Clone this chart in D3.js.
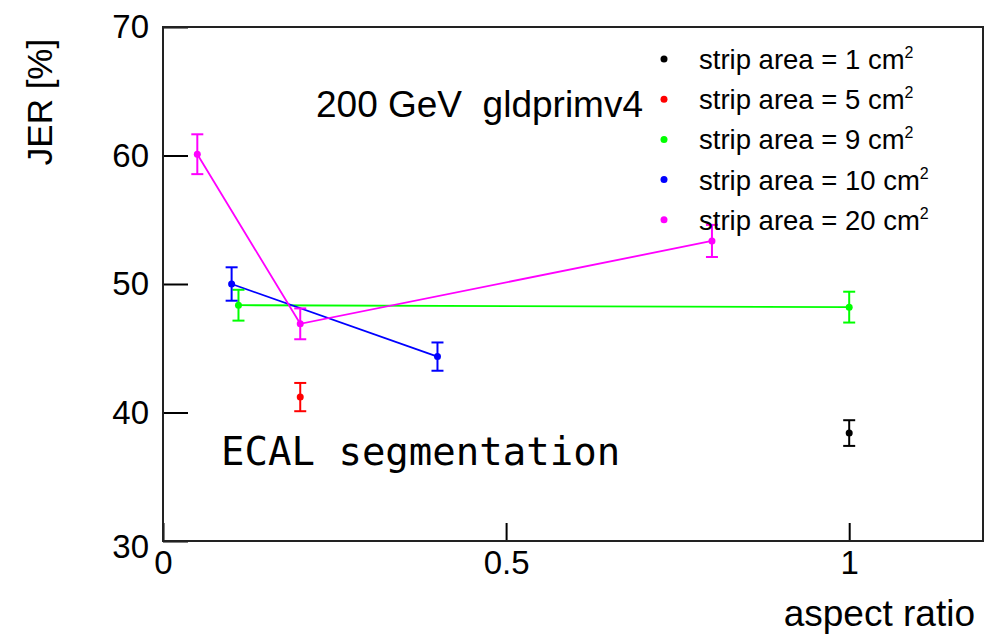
<!DOCTYPE html>
<html>
<head>
<meta charset="utf-8">
<script src="https://cdn.jsdelivr.net/npm/d3@7"></script>
<style>
  html, body { margin: 0; padding: 0; background: #fff; }
  svg { display: block; }
  text { font-family: "Liberation Sans", Arial, sans-serif; fill: #000; }
</style>
</head>
<body>
<svg id="chart" width="985" height="637"></svg>
<script>
// ---- data ----
const seriesNames = ["strip area = 1 cm", "strip area = 5 cm", "strip area = 9 cm", "strip area = 10 cm", "strip area = 20 cm"];
const seriesColors = ["#000000", "#ff0000", "#00ff00", "#0000ff", "#ff00ff"];
const xs1 = [1.0],            ys1 = [38.4],              es1 = [1.0];
const xs5 = [0.2],            ys5 = [41.2],              es5 = [1.1];
const xs9 = [0.11, 1.0],      ys9 = [48.35, 48.2],       es9 = [1.2, 1.2];
const xs10 = [0.1, 0.4],      ys10 = [50.0, 44.35],      es10 = [1.3, 1.1];
const xs20 = [0.05, 0.2, 0.8], ys20 = [60.1, 46.9, 53.35], es20 = [1.55, 1.2, 1.25];
const xTicks = [0, 0.5, 1];
const yTicks = [30, 40, 50, 60, 70];
const xTitle = "aspect ratio";
const yTitle = "JER [%]";
const noteText = "200 GeV  gldprimv4";
const segText = "ECAL segmentation";

const series = [
  {xs: xs1, ys: ys1, es: es1},
  {xs: xs5, ys: ys5, es: es5},
  {xs: xs9, ys: ys9, es: es9},
  {xs: xs10, ys: ys10, es: es10},
  {xs: xs20, ys: ys20, es: es20}
].map((s, i) => ({name: seriesNames[i], color: seriesColors[i],
  pts: s.xs.map((x, j) => ({x, y: s.ys[j], e: s.es[j]}))}));

// ---- layout ----
const svg = d3.select("#chart");
const L = 163, T = 27, R = 983, B = 541;
const x = d3.scaleLinear().domain([0, 1.195]).range([L, R]);
const y = d3.scaleLinear().domain([30, 70]).range([B, T]);

// axes
const xAxis = d3.axisBottom(x).tickValues(xTicks).tickSize(-18).tickPadding(10)
  .tickFormat(d => String(d));
const gx = svg.append("g").attr("transform", `translate(0,${B})`).call(xAxis);
gx.select(".domain").remove();
gx.selectAll(".tick line").attr("stroke", "#000").attr("stroke-width", 2);
gx.selectAll(".tick text").style("font-size", "33px").style("font-family", "Liberation Sans, Arial, sans-serif");

const yAxis = d3.axisLeft(y).tickValues(yTicks).tickSize(-25).tickPadding(14)
  .tickFormat(d => String(d));
const gy = svg.append("g").attr("transform", `translate(${L},0)`).call(yAxis);
gy.select(".domain").remove();
gy.selectAll(".tick line").attr("stroke", "#000").attr("stroke-width", 2);
gy.selectAll(".tick text").style("font-size", "33px").style("font-family", "Liberation Sans, Arial, sans-serif");
// ROOT-style: lowest y label sits a bit lower
gy.selectAll(".tick").filter(d => d === 30).select("text").attr("dy", "0.5em");

// frame
svg.append("rect").attr("x", L).attr("y", T).attr("width", R - L).attr("height", B - T)
  .attr("fill", "none").attr("stroke", "#222").attr("stroke-width", 2);

// axis titles
svg.append("text").attr("x", 975).attr("y", 626).attr("text-anchor", "end")
  .style("font-size", "37px").text(xTitle);
svg.append("text").attr("transform", "translate(52,102) rotate(-90)").attr("text-anchor", "middle")
  .style("font-size", "35px").text(yTitle);

// annotations
svg.append("text").attr("x", 316).attr("y", 117).style("font-size", "37px")
  .style("white-space", "pre").attr("xml:space", "preserve").text(noteText);
svg.append("text").attr("x", 221).attr("y", 465)
  .style("font-family", "'DejaVu Sans Mono', 'Liberation Mono', monospace")
  .style("font-size", "39px").text(segText);

// lines
const line = d3.line().x(d => x(d.x)).y(d => y(d.y));
series.forEach(s => {
  if (s.pts.length > 1) {
    svg.append("path").datum(s.pts).attr("d", line).attr("fill", "none")
      .attr("stroke", s.color).attr("stroke-width", 1.8);
  }
});

// error bars & markers
const cap = 6;
series.forEach(s => {
  const g = svg.append("g");
  s.pts.forEach(p => {
    const cx = x(p.x), y0 = y(p.y - p.e), y1 = y(p.y + p.e);
    g.append("line").attr("x1", cx).attr("x2", cx).attr("y1", y0).attr("y2", y1)
      .attr("stroke", s.color).attr("stroke-width", 2);
    g.append("line").attr("x1", cx - cap).attr("x2", cx + cap).attr("y1", y0).attr("y2", y0)
      .attr("stroke", s.color).attr("stroke-width", 2);
    g.append("line").attr("x1", cx - cap).attr("x2", cx + cap).attr("y1", y1).attr("y2", y1)
      .attr("stroke", s.color).attr("stroke-width", 2);
    g.append("circle").attr("cx", cx).attr("cy", y(p.y)).attr("r", 3.5).attr("fill", s.color);
  });
});

// legend
const legY0 = 59, legDY = 40.2;
series.forEach((s, i) => {
  const ly = legY0 + i * legDY;
  svg.append("circle").attr("cx", 664).attr("cy", ly).attr("r", 3.5).attr("fill", s.color);
  const t = svg.append("text").attr("x", 699).attr("y", ly + 10).style("font-size", "27.5px");
  t.append("tspan").text(s.name);
  t.append("tspan").attr("dy", -11).style("font-size", "16px").text("2");
});
</script>
</body>
</html>
